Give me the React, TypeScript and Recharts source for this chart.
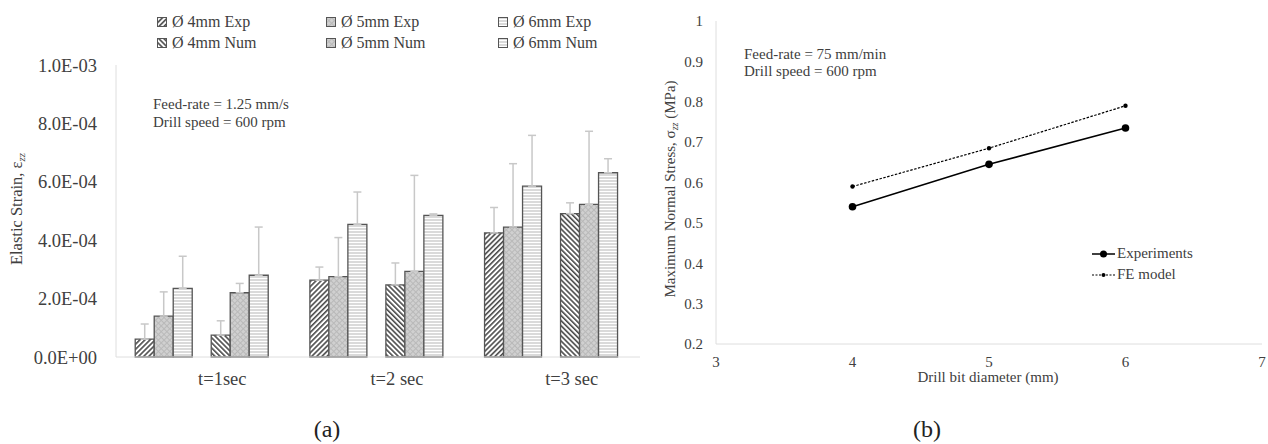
import React from 'react';
import { BarChart, Bar, XAxis, YAxis, ErrorBar, Legend, LineChart, Line } from 'recharts';

// ---------- Panel (a) data ----------
const categories = ['t=1sec', 't=2 sec', 't=3 sec'];
const exp4 = [6.1e-5, 2.63e-4, 4.25e-4];
const exp4Err = [5.2e-5, 4.5e-5, 8.7e-5];
const exp5 = [1.4e-4, 2.75e-4, 4.45e-4];
const exp5Err = [8.3e-5, 1.34e-4, 2.17e-4];
const exp6 = [2.35e-4, 4.54e-4, 5.85e-4];
const exp6Err = [1.1e-4, 1.11e-4, 1.74e-4];
const num4 = [7.5e-5, 2.47e-4, 4.91e-4];
const num4Err = [4.9e-5, 7.5e-5, 3.7e-5];
const num5 = [2.2e-4, 2.93e-4, 5.23e-4];
const num5Err = [3.2e-5, 3.29e-4, 2.5e-4];
const num6 = [2.8e-4, 4.85e-4, 6.31e-4];
const num6Err = [1.65e-4, 5e-6, 4.8e-5];
const strainTicks = [0, 0.0002, 0.0004, 0.0006, 0.0008, 0.001];

// ---------- Panel (b) data ----------
const diameters = [4, 5, 6];
const experiments = [0.54, 0.645, 0.735];
const feModel = [0.59, 0.685, 0.79];
const stressTicks = [0.2, 0.3, 0.4, 0.5, 0.6, 0.7, 0.8, 0.9, 1];
const diameterTicks = [3, 4, 5, 6, 7];

const barData = categories.map((cat, i) => ({
  cat,
  exp4: exp4[i], exp4Err: [0, exp4Err[i]],
  exp5: exp5[i], exp5Err: [0, exp5Err[i]],
  exp6: exp6[i], exp6Err: [0, exp6Err[i]],
  num4: num4[i], num4Err: [0, num4Err[i]],
  num5: num5[i], num5Err: [0, num5Err[i]],
  num6: num6[i], num6Err: [0, num6Err[i]],
}));

const lineData = diameters.map((d, i) => ({ d, exp: experiments[i], fe: feModel[i] }));

const barSeries = [
  { key: 'exp4', name: 'Ø 4mm Exp', fill: 'url(#hatchFwd)' },
  { key: 'exp5', name: 'Ø 5mm Exp', fill: 'url(#crossGray)' },
  { key: 'exp6', name: 'Ø 6mm Exp', fill: 'url(#hStripes)' },
  { key: 'gap', name: '', fill: 'none' },
  { key: 'num4', name: 'Ø 4mm Num', fill: 'url(#hatchBack)' },
  { key: 'num5', name: 'Ø 5mm Num', fill: 'url(#crossGray)' },
  { key: 'num6', name: 'Ø 6mm Num', fill: 'url(#hStripes)' },
];
const lineSeries = [
  { key: 'exp', name: 'Experiments' },
  { key: 'fe', name: 'FE model' },
];

const SERIF = '"Liberation Serif", "Times New Roman", Times, serif';
const TEXT = '#404040';
const BORDER = '#dedede';

const fmtExp = (v: number) => {
  const [m, e] = Number(v).toExponential(1).split('e');
  const sign = e[0] === '-' ? '-' : '+';
  const digits = e.replace(/[+-]/, '').padStart(2, '0');
  return `${m}E${sign}${digits}`;
};

const orderOf = (list: { key: string }[], k: any) => list.findIndex((s) => s.key === k);

const BarLegend = (props: any) => {
  const items = (props.payload || [])
    .filter((p: any) => p.dataKey !== 'gap' && p.type !== 'none')
    .slice()
    .sort((a: any, b: any) => orderOf(barSeries, a.dataKey) - orderOf(barSeries, b.dataKey));
  return (
    <div style={{ display: 'grid', gridTemplateColumns: '169px 172px 172px', rowGap: 3, fontFamily: SERIF, fontSize: 16, color: TEXT }}>
      {items.map((it: any) => {
        const s = barSeries.find((b) => b.key === it.dataKey);
        return (
          <div key={String(it.dataKey)} style={{ display: 'flex', alignItems: 'center', height: 18, whiteSpace: 'nowrap', fontFamily: SERIF }}>
            <svg width={10} height={10} style={{ marginRight: 5 }}>
              <rect x={0.5} y={0.5} width={9} height={9} fill={s ? s.fill : it.color} stroke="#555" strokeWidth={1} />
            </svg>
            {it.value}
          </div>
        );
      })}
    </div>
  );
};

const LineLegend = (props: any) => {
  const items = (props.payload || [])
    .slice()
    .sort((a: any, b: any) => orderOf(lineSeries, a.dataKey) - orderOf(lineSeries, b.dataKey));
  return (
    <div style={{ fontFamily: SERIF, fontSize: 15, color: TEXT }}>
      {items.map((it: any) => {
        const isExp = it.dataKey === 'exp';
        return (
          <div key={String(it.dataKey)} style={{ display: 'flex', alignItems: 'center', height: 21, whiteSpace: 'nowrap', fontFamily: SERIF }}>
            <svg width={23} height={10} style={{ marginRight: 2 }}>
              <line x1={0} y1={5} x2={23} y2={5} stroke="#000" strokeWidth={isExp ? 1.5 : 1.2} strokeDasharray={isExp ? undefined : '2 1.5'} />
              <circle cx={11.5} cy={5} r={isExp ? 3.5 : 2} fill="#000" />
            </svg>
            {it.value}
          </div>
        );
      })}
    </div>
  );
};

const XTickA = (props: any) => {
  const { x, y, payload } = props;
  return (
    <text x={x} y={y} dx={19} dy="0.71em" textAnchor="middle" style={{ fontFamily: SERIF }} fontSize={18.5} fill={TEXT}>
      {payload.value}
    </text>
  );
};

const YTickA = (props: any) => {
  const { x, y, payload } = props;
  return (
    <text x={x} y={y} dy="0.355em" textAnchor="end" style={{ fontFamily: SERIF }} fontSize={18.5} fill={TEXT}>
      {fmtExp(payload.value)}
    </text>
  );
};

const XTickB = (props: any) => {
  const { x, y, payload } = props;
  return (
    <text x={x} y={y} dy="0.71em" textAnchor="middle" style={{ fontFamily: SERIF }} fontSize={15} fill={TEXT}>
      {payload.value}
    </text>
  );
};

const YTickB = (props: any) => {
  const { x, y, payload } = props;
  return (
    <text x={x} y={y} dy="0.355em" textAnchor="end" style={{ fontFamily: SERIF }} fontSize={15} fill={TEXT}>
      {payload.value}
    </text>
  );
};

const abs = (style: React.CSSProperties): React.CSSProperties => ({ position: 'absolute', fontFamily: SERIF, color: TEXT, whiteSpace: 'nowrap', ...style });

export default function App() {
  return (
    <div style={{ position: 'absolute', left: 0, top: 0, width: 1268, height: 444, background: '#fff', overflow: 'hidden', fontFamily: SERIF }}>
      <svg width={0} height={0} style={{ position: 'absolute' }}>
        <defs>
          <pattern id="hatchFwd" patternUnits="userSpaceOnUse" width={3.6} height={3.6} patternTransform="rotate(45)">
            <rect width={3.6} height={3.6} fill="#fff" />
            <line x1={0.8} y1={0} x2={0.8} y2={3.6} stroke="#4a4a4a" strokeWidth={1.6} />
          </pattern>
          <pattern id="hatchBack" patternUnits="userSpaceOnUse" width={3.6} height={3.6} patternTransform="rotate(-45)">
            <rect width={3.6} height={3.6} fill="#fff" />
            <line x1={0.8} y1={0} x2={0.8} y2={3.6} stroke="#4a4a4a" strokeWidth={1.6} />
          </pattern>
          <pattern id="crossGray" patternUnits="userSpaceOnUse" width={4} height={4} patternTransform="rotate(45)">
            <rect width={4} height={4} fill="#d0d0d0" />
            <path d="M0 0.5 H4 M0.5 0 V4" stroke="#b9b9b9" strokeWidth={1} />
          </pattern>
          <pattern id="hStripes" patternUnits="userSpaceOnUse" width={4} height={3}>
            <rect width={4} height={3} fill="#fff" />
            <line x1={0} y1={1} x2={4} y2={1} stroke="#c6c6c6" strokeWidth={1.3} />
          </pattern>
        </defs>
      </svg>

      {/* Panel (a) */}
      <div style={{ position: 'absolute', left: 0, top: 0 }}>
        <BarChart
          width={650}
          height={444}
          data={barData}
          margin={{ top: 65, right: 10, bottom: 57, left: 16 }}
          barCategoryGap="11%"
          barGap={0}
          style={{ fontFamily: SERIF }}
        >
          <XAxis dataKey="cat" height={30} tickLine={false} axisLine={{ stroke: BORDER }} tick={<XTickA />} tickSize={6} tickMargin={9} interval={0} />
          <XAxis xAxisId="top" dataKey="cat" orientation="top" height={0} tick={false} tickLine={false} axisLine={{ stroke: BORDER }} />
          <YAxis
            width={100}
            domain={[0, 0.001]}
            ticks={strainTicks}
            tickLine={false}
            axisLine={{ stroke: BORDER }}
            tickSize={6}
            tickMargin={13}
            interval={0}
            tick={<YTickA />}
          />
          <YAxis yAxisId="right" orientation="right" width={0} type="number" domain={[0, 1]} tick={false} tickLine={false} axisLine={{ stroke: BORDER }} />
          <Legend
            layout="horizontal"
            verticalAlign="middle"
            align="center"
            content={<BarLegend />}
            wrapperStyle={{ top: 13, left: 157, width: 520 }}
          />
          {barSeries.map((s) =>
            s.key === 'gap' ? (
              <Bar key={s.key} dataKey="gap" legendType="none" fill="none" isAnimationActive={false} />
            ) : (
              <Bar key={s.key} dataKey={s.key} name={s.name} fill={s.fill} stroke="#555" strokeWidth={1.3} isAnimationActive={false}>
                <ErrorBar dataKey={`${s.key}Err`} direction="y" width={4} stroke="#c8c8c8" strokeWidth={1.5} />
              </Bar>
            )
          )}
        </BarChart>
      </div>

      {/* Panel (b) */}
      <div style={{ position: 'absolute', left: 650, top: 0 }}>
        <LineChart width={618} height={444} data={lineData} margin={{ top: 21, right: 6, bottom: 40, left: 16 }} style={{ fontFamily: SERIF }}>
          <XAxis
            dataKey="d"
            type="number"
            domain={[3, 7]}
            ticks={diameterTicks}
            height={60}
            tickLine={false}
            axisLine={{ stroke: BORDER }}
            tickSize={6}
            tickMargin={6}
            interval={0}
            tick={<XTickB />}
          />
          <XAxis xAxisId="top" dataKey="d" type="number" domain={[3, 7]} orientation="top" height={0} tick={false} tickLine={false} axisLine={{ stroke: BORDER }} />
          <YAxis
            width={50}
            domain={[0.2, 1]}
            ticks={stressTicks}
            tickLine={false}
            axisLine={{ stroke: BORDER }}
            tickSize={6}
            tickMargin={7}
            interval={0}
            tick={<YTickB />}
          />
          <YAxis yAxisId="right" orientation="right" width={0} type="number" domain={[0, 1]} tick={false} tickLine={false} axisLine={{ stroke: BORDER }} />
          <Legend
            layout="horizontal"
            verticalAlign="middle"
            align="center"
            content={<LineLegend />}
            wrapperStyle={{ top: 243, left: 442, width: 160 }}
          />
          <Line dataKey="exp" name="Experiments" stroke="#000" strokeWidth={1.5} dot={{ r: 3.8, fill: '#000', stroke: '#000', strokeWidth: 0 }} isAnimationActive={false} />
          <Line dataKey="fe" name="FE model" stroke="#000" strokeWidth={1.2} strokeDasharray="2.5 1.5" dot={{ r: 2.2, fill: '#000', stroke: '#000', strokeWidth: 0 }} isAnimationActive={false} />
        </LineChart>
      </div>

      {/* Annotations and titles */}
      <div style={abs({ left: 153, top: 95, fontSize: 15, lineHeight: '18px' })}>
        Feed-rate = 1.25 mm/s<br />Drill speed = 600 rpm
      </div>
      <div style={abs({ left: 744, top: 46, fontSize: 15, lineHeight: '17px' })}>
        Feed-rate = 75 mm/min<br />Drill speed = 600 rpm
      </div>
      <div style={abs({ left: 18.5, top: 209, fontSize: 16.5, lineHeight: '16.5px', transform: 'translate(-50%, -50%) rotate(-90deg)' })}>
        Elastic Strain, ε<sub style={{ fontSize: 11, fontStyle: 'italic', verticalAlign: '-3px' }}>zz</sub>
      </div>
      <div style={abs({ left: 672, top: 189, fontSize: 15, lineHeight: '15px', transform: 'translate(-50%, -50%) rotate(-90deg)' })}>
        Maximum Normal Stress, σ<sub style={{ fontSize: 10, fontStyle: 'italic', verticalAlign: '-3px' }}>zz</sub> (MPa)
      </div>
      <div style={abs({ left: 988, top: 370, fontSize: 15, lineHeight: '15px', transform: 'translateX(-50%)' })}>
        Drill bit diameter (mm)
      </div>
      <div style={abs({ left: 327, top: 417, fontSize: 24, lineHeight: '24px', transform: 'translateX(-50%)', color: '#222' })}>(a)</div>
      <div style={abs({ left: 927, top: 417, fontSize: 24, lineHeight: '24px', transform: 'translateX(-50%)', color: '#222' })}>(b)</div>
    </div>
  );
}
